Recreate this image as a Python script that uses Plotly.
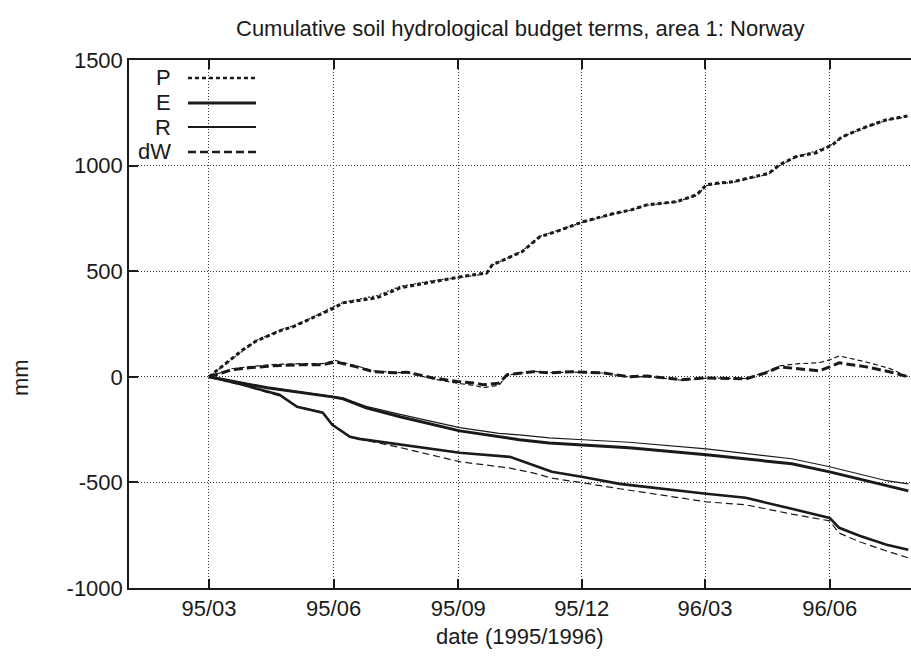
import plotly.graph_objects as go

# ---------------- data ----------------
dates_P = ["1995-03-01","1995-03-26","1995-04-05","1995-04-24","1995-05-02","1995-05-17",
           "1995-05-31","1995-06-08","1995-07-03","1995-07-20","1995-08-13","1995-09-02",
           "1995-09-22","1995-09-26","1995-10-18","1995-10-31","1995-11-12","1995-12-02",
           "1995-12-24","1996-01-07","1996-01-18","1996-02-09","1996-02-24","1996-03-02",
           "1996-03-12","1996-03-21","1996-04-17","1996-04-25","1996-05-07","1996-05-22",
           "1996-06-03","1996-06-10","1996-06-28","1996-07-13","1996-07-29"]
P_model = [0,128,170,222,237,279,322,350,374,421,450,473,492,530,592,663,687,734,772,791,
           814,829,862,909,918,923,963,1004,1042,1061,1098,1136,1184,1217,1236]
P_obs = [0,125,172,225,240,283,330,352,385,428,455,470,488,528,595,665,690,732,770,790,
         812,828,860,905,915,920,960,1000,1040,1070,1100,1135,1182,1215,1232]

dates_dW = ["1995-03-01","1995-03-18","1995-03-31","1995-04-17","1995-05-07","1995-05-24",
            "1995-06-02","1995-06-18","1995-06-30","1995-07-17","1995-07-25","1995-08-13",
            "1995-08-31","1995-09-14","1995-09-19","1995-10-01","1995-10-07","1995-10-26",
            "1995-11-07","1995-11-24","1995-12-16","1996-01-05","1996-01-18","1996-02-13",
            "1996-03-02","1996-03-31","1996-04-15","1996-04-25","1996-05-09","1996-05-24",
            "1996-06-01","1996-06-08","1996-06-28","1996-07-15","1996-07-29"]
dW_model = [0,33,43,52,57,57,71,47,24,19,22,-5,-22,-30,-38,-30,10,24,19,24,
            19,0,4,-14,-5,-10,19,47,38,28,47,66,47,24,0]
dW_obs = [0,38,48,58,62,62,78,52,28,20,20,-10,-30,-42,-52,-40,8,26,20,22,
          18,-2,2,-16,-6,-8,22,52,62,66,80,99,70,40,0]

dates_R = ["1995-03-01","1995-03-26","1995-04-13","1995-04-22","1995-05-05","1995-05-12",
           "1995-05-24","1995-05-31","1995-06-13","1995-06-20","1995-07-20","1995-09-02",
           "1995-10-09","1995-10-26","1995-11-09","1995-12-02","1995-12-29","1996-03-02",
           "1996-03-31","1996-05-04","1996-06-01","1996-06-08","1996-06-23","1996-07-13",
           "1996-07-29"]
R_model = [0,-38,-70,-85,-142,-152,-170,-227,-284,-294,-322,-360,-379,-417,-450,-474,
           -507,-554,-573,-625,-668,-715,-753,-795,-819]
R_obs = [0,-40,-74,-90,-140,-150,-168,-225,-282,-294,-335,-402,-432,-455,-480,-502,
         -530,-592,-606,-650,-682,-740,-781,-825,-857]

dates_E = ["1995-03-01","1995-04-13","1995-05-31","1995-06-08","1995-06-25","1995-07-20",
           "1995-09-02","1995-10-01","1995-10-16","1995-11-07","1995-12-02","1996-01-05",
           "1996-03-02","1996-05-04","1996-06-01","1996-07-07","1996-07-13","1996-07-29"]
E_model = [0,-52,-95,-104,-147,-189,-256,-284,-298,-313,-322,-336,-369,-412,-450,-505,-515,-540]
E_obs = [0,-50,-93,-102,-140,-178,-241,-268,-275,-289,-298,-310,-341,-388,-426,-480,-492,-507]

tick_dates = ["1995-03-01","1995-06-01","1995-09-01","1995-12-01","1996-03-01","1996-06-01"]
tick_text = ["95/03","95/06","95/09","95/12","96/03","96/06"]
y_ticks = [-1000,-500,0,500,1000,1500]
y_tick_text = ["-1000","-500","0","500","1000","1500"]
legend_names = ["P","E","R","dW"]

# ---------------- figure ----------------
INK = "#1a1a1a"
FONT = "Liberation Sans, Arial, Helvetica, sans-serif"
fig = go.Figure()

def add(x, y, width, dash):
    fig.add_trace(go.Scatter(x=x, y=y, mode="lines", showlegend=False, hoverinfo="skip",
                             line=dict(color=INK, width=width, dash=dash)))

# thin (companion) curves
add(dates_P, P_obs, 1.2, "2px,2px")
add(dates_E, E_obs, 1.2, "solid")
add(dates_R, R_obs, 1.2, "7px,4px")
add(dates_dW, dW_obs, 1.2, "5px,3px")
# thick curves
add(dates_P, P_model, 3, "4px,3px")
add(dates_E, E_model, 3, "solid")
add(dates_R, R_model, 2.6, "solid")
add(dates_dW, dW_model, 3, "9px,4px")

fig.update_layout(
    width=911, height=662,
    margin=dict(l=129, r=0, t=60, b=74),
    paper_bgcolor="white", plot_bgcolor="white",
    font=dict(family=FONT, size=22, color=INK),
    showlegend=False,
)
fig.update_xaxes(
    type="date", range=["1995-01-01", "1996-07-31"],
    tickmode="array", tickvals=tick_dates, ticktext=tick_text,
    ticks="inside", ticklen=9, tickwidth=1.5, tickcolor=INK,
    showline=True, linecolor=INK, linewidth=1.5, mirror="ticks",
    showgrid=True, gridcolor="#333", griddash="1px,2px", gridwidth=1,
    tickfont=dict(size=22), zeroline=False,
)
fig.update_yaxes(
    range=[-1000, 1500], tickmode="array", tickvals=y_ticks, ticktext=y_tick_text,
    ticks="inside", ticklen=9, tickwidth=1.5, tickcolor=INK,
    showline=True, linecolor=INK, linewidth=1.5, mirror=False,
    showgrid=True, gridcolor="#333", griddash="1px,2px", gridwidth=1,
    tickfont=dict(size=22), zeroline=False,
)

ann = [
    dict(text="Cumulative soil hydrological budget terms, area 1: Norway",
         x=0.5, y=1.0606, xref="paper", yref="paper", showarrow=False,
         xanchor="center", yanchor="middle", font=dict(size=22)),
    dict(text="date (1995/1996)", x=0.5, y=-0.0928, xref="paper", yref="paper",
         showarrow=False, xanchor="center", yanchor="middle", font=dict(size=22)),
    dict(text="mm", x=-0.1394, y=0.3996, xref="paper", yref="paper", textangle=-90,
         showarrow=False, xanchor="center", yanchor="middle", font=dict(size=22)),
]
leg_y = [0.966, 0.9186, 0.873, 0.8258]
leg_style = [(2.5, "4px,3px"), (3, "solid"), (2, "solid"), (2.5, "8px,4px")]
shapes = []
for name, yy, (w, d) in zip(legend_names, leg_y, leg_style):
    ann.append(dict(text=name, x=0.0563, y=yy, xref="paper", yref="paper", showarrow=False,
                    xanchor="right", yanchor="middle", font=dict(size=22)))
    shapes.append(dict(type="line", xref="paper", yref="paper", x0=0.0754, x1=0.1624,
                       y0=yy, y1=yy, line=dict(color=INK, width=w, dash=d)))
fig.update_layout(annotations=ann, shapes=shapes)

fig.write_html("out.html")
